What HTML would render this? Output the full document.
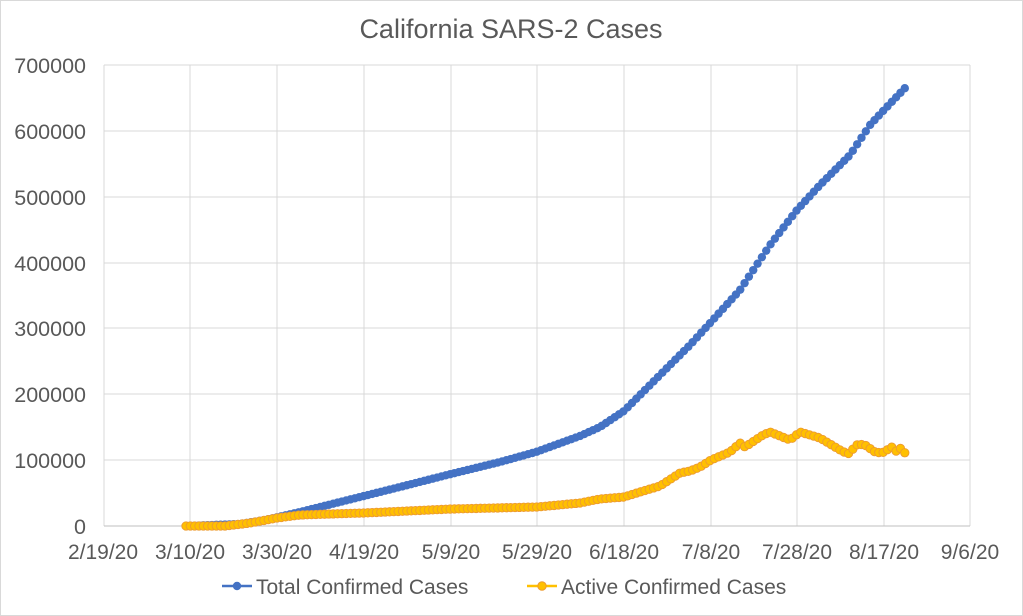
<!DOCTYPE html>
<html><head><meta charset="utf-8"><style>
html,body{margin:0;padding:0;background:#fff;}
svg{display:block;font-family:"Liberation Sans",sans-serif;}
</style></head><body>
<svg id="c" width="1023" height="616" viewBox="0 0 1023 616" xmlns="http://www.w3.org/2000/svg">
<rect x="0.5" y="0.5" width="1022" height="615" fill="#fff" stroke="#d9d9d9"/>
<text x="511" y="38" text-anchor="middle" font-size="27" fill="#595959">California SARS-2 Cases</text>
<g stroke="#d9d9d9" stroke-width="1">
<line x1="104" y1="460" x2="970" y2="460"/><line x1="104" y1="394" x2="970" y2="394"/>
<line x1="104" y1="328" x2="970" y2="328"/><line x1="104" y1="263" x2="970" y2="263"/>
<line x1="104" y1="197" x2="970" y2="197"/><line x1="104" y1="131" x2="970" y2="131"/>
<line x1="104" y1="65" x2="970" y2="65"/>
<line x1="190" y1="65" x2="190" y2="526"/><line x1="277" y1="65" x2="277" y2="526"/>
<line x1="364" y1="65" x2="364" y2="526"/><line x1="451" y1="65" x2="451" y2="526"/>
<line x1="537" y1="65" x2="537" y2="526"/><line x1="624" y1="65" x2="624" y2="526"/>
<line x1="711" y1="65" x2="711" y2="526"/><line x1="797" y1="65" x2="797" y2="526"/>
<line x1="884" y1="65" x2="884" y2="526"/><line x1="970" y1="65" x2="970" y2="526"/>
<line x1="104" y1="65" x2="104" y2="526"/>
<line x1="104" y1="526" x2="970" y2="526" stroke="#bfbfbf"/>
</g>
<g font-size="21.5" fill="#595959" text-anchor="end">
<text x="86" y="534">0</text><text x="86" y="468">100000</text><text x="86" y="402">200000</text>
<text x="86" y="336">300000</text><text x="86" y="271">400000</text><text x="86" y="205">500000</text>
<text x="86" y="139">600000</text><text x="86" y="73">700000</text>
</g>
<g font-size="21" fill="#595959" text-anchor="middle">
<text x="103" y="559">2/19/20</text><text x="190" y="559">3/10/20</text><text x="277" y="559">3/30/20</text>
<text x="364" y="559">4/19/20</text><text x="451" y="559">5/9/20</text><text x="537" y="559">5/29/20</text>
<text x="624" y="559">6/18/20</text><text x="711" y="559">7/8/20</text><text x="797" y="559">7/28/20</text>
<text x="884" y="559">8/17/20</text><text x="970" y="559">9/6/20</text>
</g>
<g id="series"></g>
<g font-size="21" fill="#595959">
<line x1="222" y1="586" x2="252" y2="586" stroke="#4472C4" stroke-width="2.5"/>
<circle cx="237" cy="586" r="4.2" fill="#4472C4"/>
<text x="256" y="594">Total Confirmed Cases</text>
<line x1="527" y1="586" x2="557" y2="586" stroke="#FFC000" stroke-width="2.5"/>
<circle cx="542" cy="586" r="4.2" fill="#FFC000" stroke="#ED9B31"/>
<text x="561" y="594">Active Confirmed Cases</text>
</g>
</svg>
<script>
function interp(pts,x){for(var i=0;i<pts.length-1;i++){if(x>=pts[i][0]&&x<=pts[i+1][0]){var t=(x-pts[i][0])/(pts[i+1][0]-pts[i][0]);return pts[i][1]+t*(pts[i+1][1]-pts[i][1]);}}return pts[pts.length-1][1];}
var tot=[[186,526],[240,524],[265,520],[300,512],[348,500],[364,496],[400,487],[451,474],[500,462],[536,452],[580,436],[600,427],[624,411],[660,375],[690,345],[711,322],[740,290],[770,245],[797,210],[820,185],[850,155],[870,125],[884,110],[905,88]];
var act=[[186,526],[225,526],[250,523],[277,518],[300,515],[330,514],[364,513],[451,509],[537,507],[580,503],[600,499],[624,497],[640,492],[660,486],[680,473],[690,471],[700,467],[711,460],[730,452],[740,443],[745,447],[763,435],[770,432],[790,440],[800,432],[820,438],[830,444],[840,450],[848,454],[858,444],[865,445],[875,452],[882,453],[892,447],[897,452],[900,448],[905,453]];
var g=document.getElementById('series'),ns="http://www.w3.org/2000/svg";
function draw(pts,fill,stroke){var d="";var cs=[];for(var x=186;x<=905.1;x+=4.33){var y=interp(pts,x);d+=(d?"L":"M")+x.toFixed(1)+","+y.toFixed(1);cs.push([x,y]);}
var p=document.createElementNS(ns,"path");p.setAttribute("d",d);p.setAttribute("fill","none");p.setAttribute("stroke",fill);p.setAttribute("stroke-width","2.5");g.appendChild(p);
cs.forEach(function(c){var e=document.createElementNS(ns,"circle");e.setAttribute("cx",c[0]);e.setAttribute("cy",c[1]);e.setAttribute("r","4.2");e.setAttribute("fill",fill);if(stroke){e.setAttribute("stroke",stroke);e.setAttribute("stroke-width","0.9");}g.appendChild(e);});}
draw(tot,"#4472C4",null);
draw(act,"#FFC000","#ED9B31");
</script>
</body></html>
